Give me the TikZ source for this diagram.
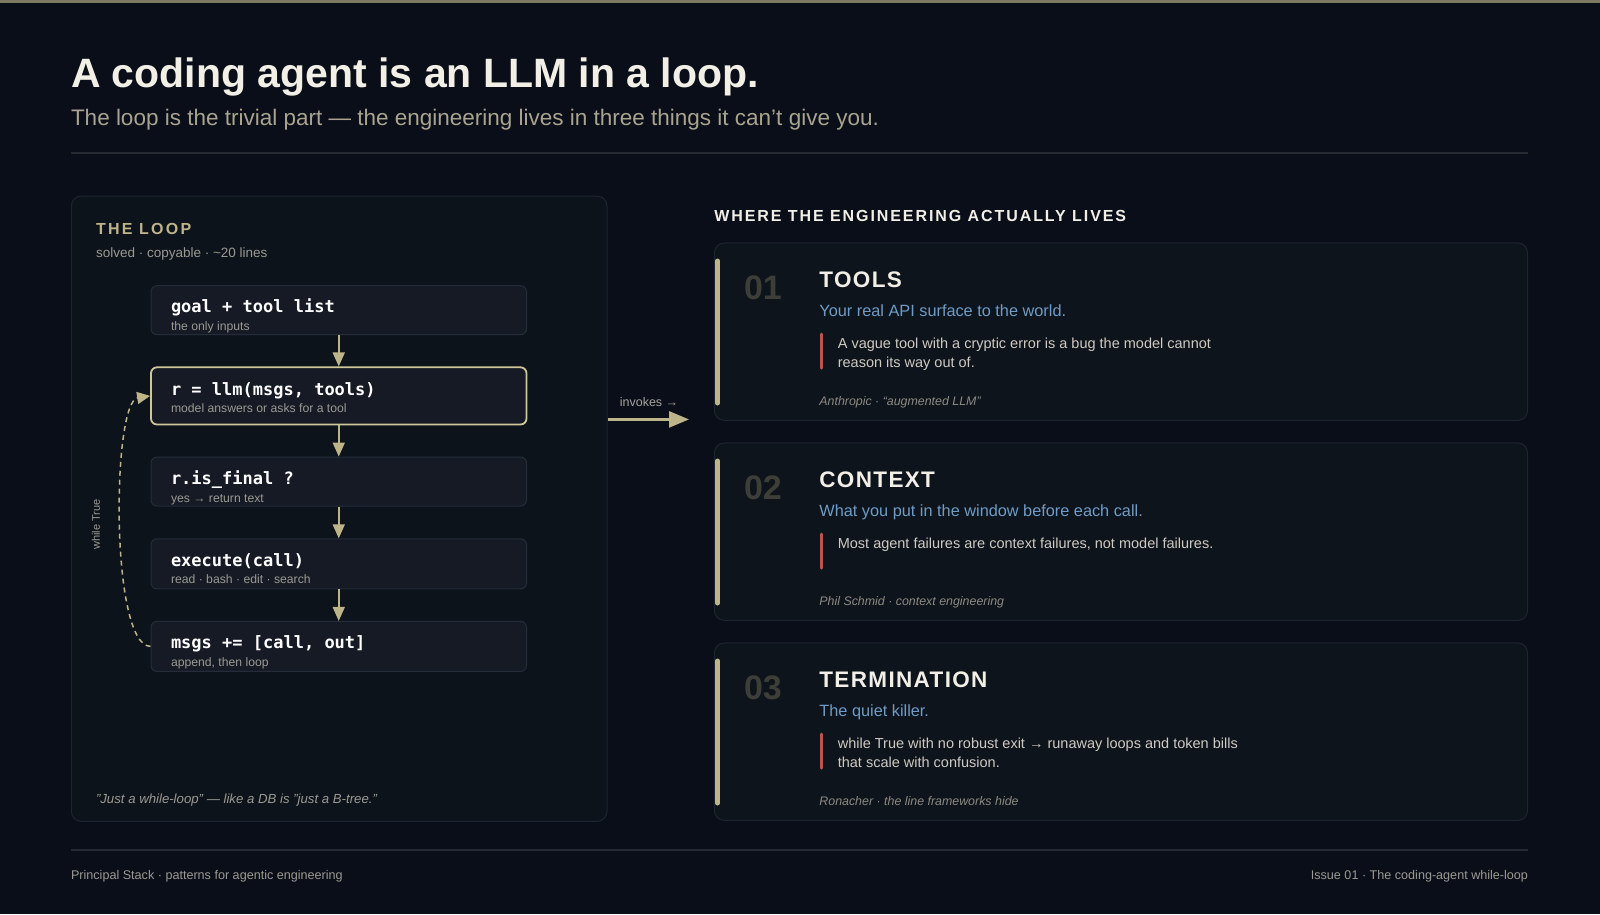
\documentclass[tikz,border=0pt]{standalone}
\usepackage{fontspec}
\setmainfont{Liberation Sans}
\setsansfont{Liberation Sans}
\newfontfamily\monob{DejaVu Sans Mono}
\newfontfamily\trackA[LetterSpace=14]{Liberation Sans}
\newfontfamily\trackB[LetterSpace=12]{Liberation Sans}
\newfontfamily\trackC[LetterSpace=6]{Liberation Sans}
\usetikzlibrary{arrows.meta}
\newcommand\fsz[2]{\fontsize{#1}{#2}\selectfont}
\definecolor{bg}{HTML}{0A0E18}
\definecolor{topbar}{HTML}{7E7962}
\definecolor{rulec}{HTML}{262A33}
\definecolor{panelfill}{HTML}{0D131B}
\definecolor{panelline}{HTML}{1D2530}
\definecolor{boxfill}{HTML}{151A25}
\definecolor{boxline}{HTML}{252D3B}
\definecolor{tan}{HTML}{BDB589}
\definecolor{tanhi}{HTML}{CFC69A}
\definecolor{titlec}{HTML}{F2EFE6}
\definecolor{subc}{HTML}{A9A390}
\definecolor{grayt}{HTML}{9B9A92}
\definecolor{numc}{HTML}{3C3E37}
\definecolor{bluec}{HTML}{6E9CC6}
\definecolor{redc}{HTML}{C0524F}
\definecolor{quotec}{HTML}{CFCAC2}
\definecolor{citec}{HTML}{8C8A82}
\definecolor{cardfill}{HTML}{0E141C}
\definecolor{cardline}{HTML}{1D2530}
\tikzset{
  txt/.style={anchor=base west, inner sep=0pt, outer sep=0pt},
  panel/.style={draw=panelline, fill=panelfill, rounded corners=10pt, line width=1pt, minimum width=535.6pt, minimum height=625.4pt, inner sep=0pt},
  box/.style={draw=boxline, fill=boxfill, rounded corners=6pt, line width=1pt, minimum width=375.5pt, inner sep=0pt},
  boxhi/.style={box, draw=tanhi, line width=1.8pt},
  code/.style={txt, text=white, font=\monob\bfseries\fsz{17}{20}},
  codesub/.style={txt, text=grayt, font=\fsz{12.2}{14}},
  flow/.style={draw=tan, line width=1.8pt, -{Triangle[length=14pt,width=12pt]}},
  card/.style={draw=cardline, fill=cardfill, rounded corners=10pt, line width=1pt, minimum width=813.3pt, minimum height=177.5pt, inner sep=0pt},
  tanbar/.style={draw=tan, line width=5pt, line cap=round},
  redbar/.style={draw=redc, line width=3pt, line cap=round},
  num/.style={txt, text=numc, font=\bfseries\fsz{34}{40}},
  ctitle/.style={txt, text=titlec, font=\trackC\bfseries\fsz{22.5}{26}},
  cblue/.style={txt, text=bluec, font=\fsz{16.3}{20}},
  cquote/.style={txt, text=quotec, font=\fsz{14.5}{18}},
  ccite/.style={txt, text=citec, font=\itshape\fsz{12.4}{15}},
}
\begin{document}
\begin{tikzpicture}[x=1pt,y=-1pt]
\useasboundingbox (0,0) rectangle (1600,914);
\fill[bg] (0,0) rectangle (1600,914);
\fill[topbar] (0,0) rectangle (1600,3);

% header
\node[txt, text=titlec, font=\bfseries\fsz{41}{46}] (title) at (71,87) {A coding agent is an LLM in a loop.};
\node[txt, text=subc, font=\fsz{22.5}{26}] (subtitle) at (71,125.5) {The loop is the trivial part — the engineering lives in three things it can’t give you.};
\draw[rulec, line width=1.2pt] (71,153) -- (1528,153);

% left panel
\node[panel] (loop) at (339.2,508.7) {};
\node[txt, text=tan, font=\trackA\bfseries\fsz{16}{20}] (looph) at (96,234) {THE LOOP};
\node[txt, text=grayt, font=\fsz{13.5}{16}] (loops) at (96,257) {solved · copyable · \textasciitilde 20 lines};

\node[box, minimum height=49pt] (b1) at (338.75,310.2) {};
\node[boxhi, minimum height=57.2pt] (b2) at (338.75,395.9) {};
\node[box, minimum height=49pt] (b3) at (338.75,481.5) {};
\node[box, minimum height=50pt] (b4) at (338.75,563.8) {};
\node[box, minimum height=50pt] (b5) at (338.75,646.4) {};

\node[code] (c1) at (171,312) {goal + tool list};
\node[codesub] (s1) at (171,330) {the only inputs};
\node[code] (c2) at (171,395) {r = llm(msgs, tools)};
\node[codesub] (s2) at (171,412) {model answers or asks for a tool};
\node[code] (c3) at (171,484) {r.is\_final ?};
\node[codesub] (s3) at (171,502) {yes → return text};
\node[code] (c4) at (171,566) {execute(call)};
\node[codesub] (s4) at (171,583.5) {read · bash · edit · search};
\node[code] (c5) at (171,648) {msgs += [call, out]};
\node[codesub] (s5) at (171,666) {append, then loop};

\draw[flow] (b1.south) -- (b2.north);
\draw[flow] (b2.south) -- (b3.north);
\draw[flow] (b3.south) -- (b4.north);
\draw[flow] (b4.south) -- (b5.north);

\draw[tan, line width=1.5pt, dash pattern=on 5pt off 4pt, -{Triangle[length=13pt,width=12pt]}]
  (b5.west) .. controls (110,646) and (112,402) .. (b2.west);
\node[inner sep=0pt, text=grayt, font=\fsz{11}{13}, rotate=90] (wt) at (96,524.5) {while True};

\node[txt, text=grayt, font=\itshape\fsz{13.2}{16}] (foot) at (96,803) {"Just a while-loop" — like a DB is "just a B-tree."};

% invokes
\coordinate (inv) at (689,419.4);
\draw[tan, line width=2.5pt, -{Triangle[length=20pt,width=16pt]}] (loop.east |- inv) -- (inv);
\node[inner sep=0pt, text=grayt!90!white, font=\fsz{12.5}{15}] (invl) at (649,402) {invokes →};

% right side
\node[txt, text=titlec, font=\trackB\bfseries\fsz{16}{20}] (rhead) at (714.3,221) {WHERE THE ENGINEERING ACTUALLY LIVES};

% card 1
\node[card] (k1) at (1121,331.65) {};
\draw[tanbar] (717.5,261) -- (717.5,403);
\node[num] (n1) at (744,299) {01};
\node[ctitle] (t1) at (819.4,287.6) {TOOLS};
\node[cblue] (u1) at (819.4,316) {Your real API surface to the world.};
\draw[redbar] (821,334) -- (821,368);
\node[cquote] (q1a) at (837.8,348) {A vague tool with a cryptic error is a bug the model cannot};
\node[cquote] (q1b) at (837.8,367.5) {reason its way out of.};
\node[ccite] (r1) at (819.4,405.5) {Anthropic · “augmented LLM”};

% card 2
\node[card] (k2) at (1121,531.65) {};
\draw[tanbar] (717.5,461) -- (717.5,603);
\node[num] (n2) at (744,499) {02};
\node[ctitle] (t2) at (819.4,487.6) {CONTEXT};
\node[cblue] (u2) at (819.4,516) {What you put in the window before each call.};
\draw[redbar] (821,534) -- (821,568);
\node[cquote] (q2a) at (837.8,548) {Most agent failures are context failures, not model failures.};
\node[ccite] (r2) at (819.4,605.5) {Phil Schmid · context engineering};

% card 3
\node[card] (k3) at (1121,731.65) {};
\draw[tanbar] (717.5,661) -- (717.5,803);
\node[num] (n3) at (744,699) {03};
\node[ctitle] (t3) at (819.4,687.6) {TERMINATION};
\node[cblue] (u3) at (819.4,716) {The quiet killer.};
\draw[redbar] (821,734) -- (821,768);
\node[cquote] (q3a) at (837.8,748) {while True with no robust exit → runaway loops and token bills};
\node[cquote] (q3b) at (837.8,767.5) {that scale with confusion.};
\node[ccite] (r3) at (819.4,805.5) {Ronacher · the line frameworks hide};

% footer
\draw[rulec, line width=1.5pt] (71,850) -- (1528,850);
\node[txt, text=grayt, font=\fsz{12.6}{16}] (fl) at (71,879) {Principal Stack · patterns for agentic engineering};
\node[txt, anchor=base east, text=grayt, font=\fsz{12.6}{16}] (fr) at (1528,879) {Issue 01 · The coding-agent while-loop};
\end{tikzpicture}
\end{document}
